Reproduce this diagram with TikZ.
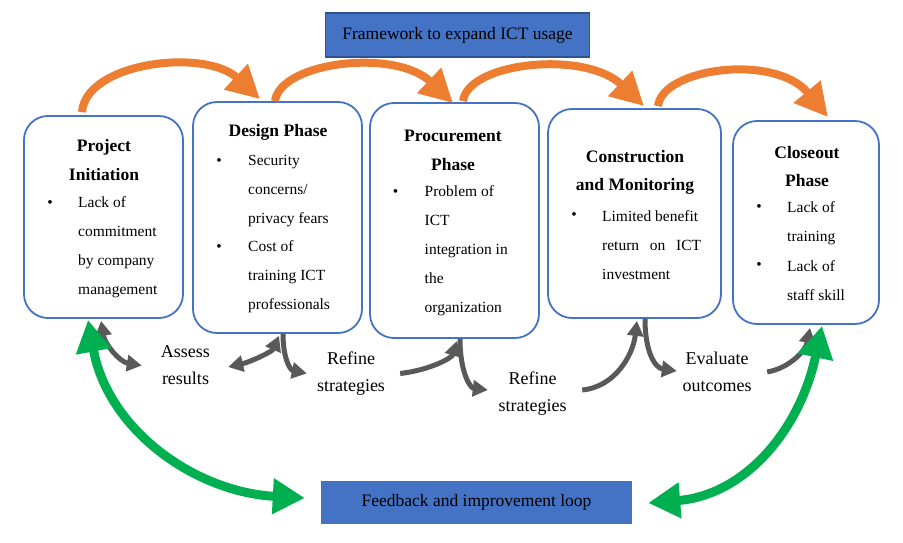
\documentclass[tikz,border=0pt]{standalone}
\usepackage{fontspec}
\setmainfont{Liberation Serif}
\usetikzlibrary{arrows.meta}
\definecolor{boxblue}{HTML}{4472C4}
\definecolor{boxedge}{HTML}{2F528F}
\definecolor{orarr}{HTML}{ED7D31}
\definecolor{grarr}{HTML}{595959}
\definecolor{gnarr}{HTML}{00B050}
\begin{document}
\begin{tikzpicture}[x=1pt,y=-1pt,
  phase/.style={draw=boxblue, line width=1.8pt, rounded corners=24pt, fill=white, inner sep=0pt},
  banner/.style={fill=boxblue, inner sep=0pt, font=\fontsize{17.5}{21}\selectfont},
  ttl/.style={font=\bfseries\fontsize{17.5}{28.5}\selectfont, align=center, inner sep=0pt},
  itm/.style={font=\fontsize{15.5}{29}\selectfont, align=left, anchor=west, inner sep=0pt},
  bdot/.style={font=\fontsize{15.5}{29}\selectfont, inner sep=0pt},
  lbl/.style={font=\fontsize{18}{27}\selectfont, align=center, inner sep=0pt},
  flow/.style={draw=orarr, line width=8pt, -{Triangle[length=33pt,width=33pt]}},
  gone/.style={draw=grarr, line width=5pt, -{Triangle[length=15pt,width=16pt]}},
  gtwo/.style={draw=grarr, line width=5pt, {Triangle[length=15pt,width=16pt]}-{Triangle[length=15pt,width=16pt]}},
  feed/.style={draw=gnarr, line width=9pt, {Triangle[length=32pt,width=34pt]}-{Triangle[length=32pt,width=34pt]}}
]
\useasboundingbox (0,0) rectangle (903,543);

% banners
\node[banner, draw=boxedge, line width=1.5pt, minimum width=264pt, minimum height=44pt] (ft) at (457.5,35) {Framework to expand ICT usage};
\node[banner, minimum width=311pt, minimum height=43pt] (fb) at (476.5,502.5) {Feedback and improvement loop};

% phase boxes
\node[phase, minimum width=159pt, minimum height=202pt] (b1) at (103.5,217) {};
\node[phase, minimum width=169pt, minimum height=231pt] (b2) at (277.5,217.5) {};
\node[phase, minimum width=169pt, minimum height=235pt] (b3) at (454.5,220.5) {};
\node[phase, minimum width=173pt, minimum height=209pt] (b4) at (634.5,213.5) {};
\node[phase, minimum width=146pt, minimum height=203pt] (b5) at (806,222.5) {};

% box 1
\node[ttl] (t1) at (104,160) {Project\\Initiation};
\node[bdot] (d1) at (50,204) {\textbullet};
\node[itm] (i1) at (78,247) {Lack of\\commitment\\by company\\management};
% box 2
\node[ttl] (t2) at (278,132.5) {Design Phase};
\node[bdot] (d2a) at (219,162) {\textbullet};
\node[itm] (i2a) at (248,191) {Security\\concerns/\\privacy fears};
\node[bdot] (d2b) at (219,248) {\textbullet};
\node[itm] (i2b) at (248,277) {Cost of\\training ICT\\professionals};
% box 3
\node[ttl] (t3) at (453,150.5) {Procurement\\Phase};
\node[bdot] (d3) at (395.5,193) {\textbullet};
\node[itm] (i3) at (424.5,251) {Problem of\\ICT\\integration in\\the\\organization};
% box 4
\node[ttl] (t4) at (635,172.5) {Construction\\and Monitoring};
\node[bdot] (d4) at (574,216) {\textbullet};
\node[itm] (i4) at (602,245) {Limited benefit\\\makebox[99pt][s]{return on ICT}\\investment};
% box 5
\node[ttl] (t5) at (807,166.5) {Closeout\\Phase};
\node[bdot] (d5a) at (759,208) {\textbullet};
\node[itm] (i5a) at (787,223) {Lack of\\training};
\node[bdot] (d5b) at (759,266) {\textbullet};
\node[itm] (i5b) at (787,280.5) {Lack of\\staff skill};

% labels
\node[lbl] (la) at (185.5,365.5) {Assess\\results};
\node[lbl] (lr1) at (351,373.5) {Refine\\strategies};
\node[lbl] (lr2) at (532.5,393.5) {Refine\\strategies};
\node[lbl] (le) at (717,372) {Evaluate\\outcomes};

% orange flow arrows
\draw[flow] ([xshift=-21.5pt,yshift=3pt]b1.north) .. controls (86,62) and (205,48) .. ([xshift=-17.5pt,yshift=2pt]b2.north);
\draw[flow] ([xshift=-2.5pt]b2.north) .. controls (280,62) and (395,48) .. ([xshift=-1.5pt,yshift=-1pt]b3.north);
\draw[flow] ([xshift=8.5pt,yshift=1pt]b3.north) .. controls (468,62) and (585,50) .. ([xshift=9.5pt,yshift=2pt]b4.north);
\draw[flow] ([xshift=23.5pt,yshift=2pt]b4.north) .. controls (662,68) and (775,53) .. ([xshift=22pt,yshift=3pt]b5.north);

% gray loop arrows
\draw[gtwo] ([xshift=-2.5pt,yshift=-2pt]b1.south) .. controls (105,345) and (120,362) .. ([xshift=-19pt]la.west);
\draw[gtwo] ([xshift=18pt,yshift=-1.5pt]la.east) .. controls (250,362) and (272,352) .. ([xshift=1.5pt,yshift=-2pt]b2.south);
\draw[gone] ([xshift=5.5pt]b2.south) .. controls (283,358) and (290,370) .. ([xshift=-10pt]lr1.west);
\draw[gone] ([xshift=15pt]lr1.east) .. controls (430,370) and (452,358) .. ([xshift=2.5pt,yshift=-2pt]b3.south);
\draw[gone] ([xshift=5.5pt]b3.south) .. controls (460,372) and (470,388) .. ([xshift=-10.5pt,yshift=3.5pt]lr2.west);
\draw[gone] ([xshift=15.5pt,yshift=3.5pt]lr2.east) .. controls (615,387) and (633,355) .. ([xshift=2.5pt,yshift=-2pt]b4.south);
\draw[gone] ([xshift=10.5pt]b4.south) .. controls (645,352) and (655,368) .. ([xshift=-5.5pt,yshift=1pt]le.west);
\draw[gone] ([xshift=15.5pt]le.east) .. controls (790,368) and (806,350) .. ([xshift=4pt,yshift=-3pt]b5.south);

% green feedback arrows
\draw[feed] ([xshift=-15.5pt,yshift=-1pt]b1.south) .. controls (108,430) and (195,492) .. ([xshift=-16pt,yshift=4.5pt]fb.west);
\draw[feed] ([xshift=16pt,yshift=-1pt]b5.south) .. controls (800,430) and (745,495) .. ([xshift=16pt,yshift=-0.5pt]fb.east);
\end{tikzpicture}
\end{document}
